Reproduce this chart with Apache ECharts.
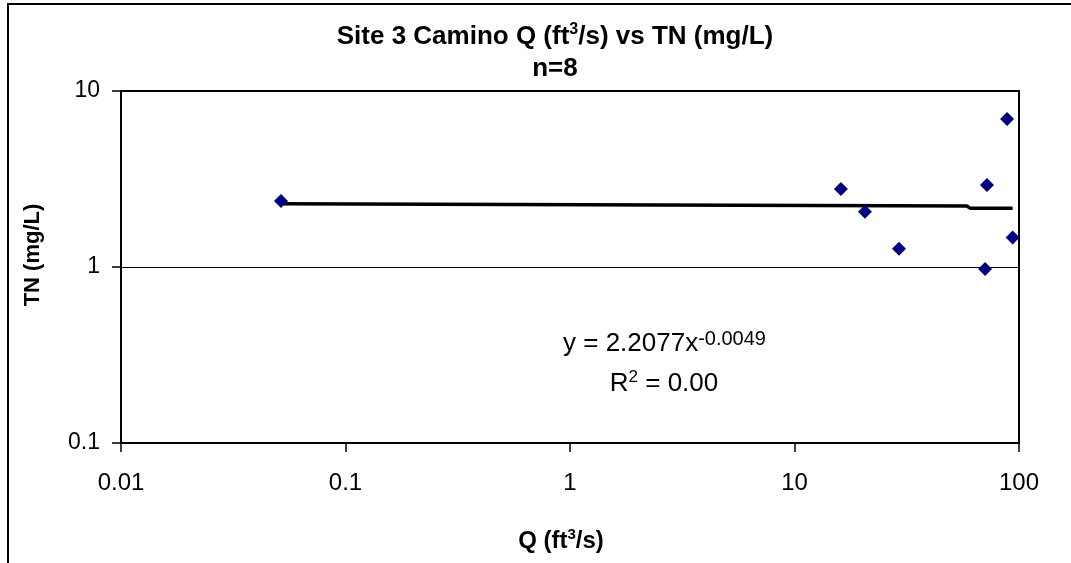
<!DOCTYPE html>
<html><head><meta charset="utf-8">
<script src="https://cdn.jsdelivr.net/npm/echarts@6/dist/echarts.min.js"></script>
<style>html,body{margin:0;padding:0;background:#fff}#c{width:1071px;height:563px}</style>
</head><body><div id="c"></div>
<script>
// Data
const qValues = [0.0516, 16.1, 20.6, 29.2, 70.6, 72.0, 88.5, 93.7];
const tnValues = [2.37, 2.77, 2.06, 1.27, 0.974, 2.92, 6.93, 1.47];
const trendQ = [0.0516, 58.6, 60.5, 93.7];
const trendTN = [2.29, 2.22, 2.16, 2.16];
const xTickLabels = ['0.01', '0.1', '1', '10', '100'];
const yTickLabels = ['0.1', '1', '10'];
const titleLine1 = ['Site 3 Camino Q (ft', '3', '/s) vs TN (mg/L)'];
const titleLine2 = 'n=8';
const eqParts = ['y = 2.2077x', '-0.0049'];
const r2Parts = ['R', '2', ' = 0.00'];
const xName = ['Q (ft', '3', '/s)'];
const yName = 'TN (mg/L)';

const FF = '"Liberation Sans", Arial, sans-serif';
function fmt(list) {
  return function (v) {
    let best = list[0], bd = Infinity;
    list.forEach(s => { const d = Math.abs(Math.log10(parseFloat(s)) - Math.log10(v)); if (d < bd) { bd = d; best = s; } });
    return best;
  };
}

const chart = echarts.init(document.getElementById('c'), null, {renderer: 'canvas'});
chart.setOption({
  animation: false,
  backgroundColor: '#fff',
  grid: {left: 121, top: 91, right: 52, bottom: 120, show: true, borderColor: '#000', borderWidth: 2, backgroundColor: 'transparent'},
  xAxis: {
    type: 'log', logBase: 10, min: 0.01, max: 100,
    axisLine: {show: true, onZero: false, lineStyle: {color: '#000', width: 2}},
    axisTick: {show: true, length: 9, lineStyle: {color: '#000', width: 1.5}},
    axisLabel: {formatter: fmt(xTickLabels), color: '#000', fontFamily: FF, fontSize: 24, margin: 28},
    splitLine: {show: false}, minorTick: {show: false},
    name: '{n|' + xName[0] + '}{s|' + xName[1] + '}{n|' + xName[2] + '}',
    nameLocation: 'middle', nameGap: 84,
    nameTextStyle: {padding: [0, 18, 0, 0], rich: {
      n: {fontFamily: FF, fontSize: 24, fontWeight: 'bold', color: '#000', lineHeight: 28},
      s: {fontFamily: FF, fontSize: 15, fontWeight: 'bold', color: '#000', lineHeight: 16, verticalAlign: 'top'}
    }}
  },
  yAxis: {
    type: 'log', logBase: 10, min: 0.1, max: 10,
    axisLine: {show: true, onZero: false, lineStyle: {color: '#000', width: 2}},
    axisTick: {show: true, length: 9, lineStyle: {color: '#000', width: 1.5}},
    axisLabel: {formatter: fmt(yTickLabels), color: '#000', fontFamily: FF, fontSize: 23, margin: 21},
    splitLine: {show: true, lineStyle: {color: '#000', width: 1}}, minorTick: {show: false}
  },
  graphic: [
    {type: 'rect', silent: true, shape: {x: 8, y: 4, width: 1200, height: 700}, style: {fill: 'none', stroke: '#000', lineWidth: 2}},
    {type: 'text', x: 555, y: 37, style: {
      text: '{a|' + titleLine1[0] + '}{s|' + titleLine1[1] + '}{a|' + titleLine1[2] + '}',
      align: 'center', verticalAlign: 'middle',
      rich: {
        a: {fontFamily: FF, fontSize: 26, fontWeight: 'bold', fill: '#000', lineHeight: 30},
        s: {fontFamily: FF, fontSize: 16, fontWeight: 'bold', fill: '#000', lineHeight: 22, verticalAlign: 'top'}
      }}},
    {type: 'text', x: 555, y: 69, style: {text: titleLine2, align: 'center', verticalAlign: 'middle', font: 'bold 26px ' + FF, fill: '#000'}},
    {type: 'text', x: 563, y: 329, style: {
      text: '{a|' + eqParts[0] + '}{s|' + eqParts[1] + '}',
      align: 'left', verticalAlign: 'top',
      rich: {
        a: {fontFamily: FF, fontSize: 26, fill: '#000', lineHeight: 30},
        s: {fontFamily: FF, fontSize: 20, fill: '#000', lineHeight: 20, verticalAlign: 'top'}
      }}},
    {type: 'text', x: 664, y: 369, style: {
      text: '{a|' + r2Parts[0] + '}{s|' + r2Parts[1] + '}{a|' + r2Parts[2] + '}',
      align: 'center', verticalAlign: 'top',
      rich: {
        a: {fontFamily: FF, fontSize: 26, fill: '#000', lineHeight: 30},
        s: {fontFamily: FF, fontSize: 17, fill: '#000', lineHeight: 24, verticalAlign: 'top'}
      }}},
    {type: 'text', x: 33, y: 255, rotation: Math.PI / 2, style: {text: yName, align: 'center', verticalAlign: 'middle', font: 'bold 22px ' + FF, fill: '#000'}}
  ],
  series: [
    {type: 'line', data: trendQ.map((q, i) => [q, trendTN[i]]), showSymbol: false, symbol: 'none',
     lineStyle: {color: '#000', width: 3.5}, z: 2, silent: true},
    {type: 'scatter', data: qValues.map((q, i) => [q, tnValues[i]]), symbol: 'diamond', symbolSize: 14,
     itemStyle: {color: '#000080', opacity: 1}, z: 3}
  ]
});
</script></body></html>
